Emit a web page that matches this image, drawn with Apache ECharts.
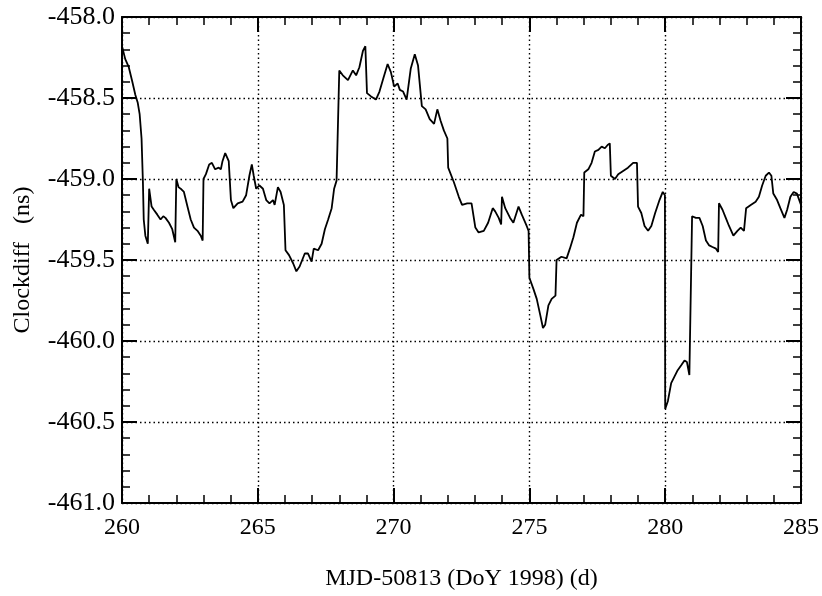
<!DOCTYPE html>
<html>
<head>
<meta charset="utf-8">
<script src="https://cdn.jsdelivr.net/npm/echarts@6/dist/echarts.min.js"></script>
<style>html,body{margin:0;padding:0;background:#fff;}#c{width:822px;height:596px;}</style>
</head>
<body>
<div id="c"></div>
<script>
const xTicks = [260, 265, 270, 275, 280, 285];
const yTicks = [-461.0, -460.5, -460.0, -459.5, -459.0, -458.5, -458.0];
const days = [
260.00,260.12,260.25,260.38,260.49,260.58,260.65,260.72,260.77,260.80,260.86,260.95,
261.00,261.09,261.17,261.30,261.42,261.52,261.60,261.73,261.85,261.96,
262.00,262.08,262.16,262.28,262.41,262.53,262.65,262.78,262.90,262.97,
263.00,263.09,263.21,263.31,263.43,263.56,263.64,263.70,263.80,263.93,
264.01,264.10,264.26,264.44,264.57,264.69,264.78,264.85,264.94,
265.06,265.19,265.31,265.43,265.56,265.62,265.74,265.84,265.96,
266.02,266.15,266.30,266.42,266.54,266.73,266.85,266.98,
267.06,267.22,267.35,267.47,267.59,267.72,267.81,267.90,267.97,
268.00,268.13,268.32,268.50,268.62,268.74,268.87,268.96,
269.02,269.17,269.35,269.48,269.62,269.78,269.90,
270.02,270.15,270.23,270.35,270.48,270.63,270.78,270.90,
271.04,271.18,271.33,271.49,271.61,271.73,271.85,271.98,
272.01,272.22,272.40,272.52,272.71,272.87,
273.01,273.13,273.32,273.48,273.65,273.74,273.87,273.96,273.99,
274.11,274.29,274.41,274.60,274.72,274.90,274.97,
275.00,275.15,275.27,275.40,275.50,275.58,275.70,275.82,275.96,
276.00,276.18,276.37,276.49,276.62,276.75,276.90,276.99,
277.02,277.17,277.29,277.41,277.54,277.66,277.78,277.88,277.96,
278.00,278.15,278.27,278.45,278.63,278.82,278.96,
279.00,279.12,279.24,279.37,279.49,279.63,279.79,279.91,279.99,
280.00,280.10,280.22,280.34,280.46,280.59,280.71,280.80,280.89,280.96,
280.99,281.13,281.26,281.38,281.50,281.62,281.74,281.87,281.95,
281.98,282.11,282.23,282.35,282.51,282.66,282.78,282.90,
282.98,283.15,283.33,283.45,283.57,283.70,283.82,283.91,
283.98,284.12,284.24,284.39,284.49,284.61,284.73,284.85,285.00
];
const clockdiff = [
-458.18,-458.26,-458.31,-458.40,-458.48,-458.53,-458.60,-458.75,-459.02,-459.25,-459.35,-459.40,
-459.06,-459.17,-459.19,-459.22,-459.25,-459.23,-459.24,-459.27,-459.31,-459.39,
-459.00,-459.05,-459.06,-459.08,-459.17,-459.25,-459.30,-459.32,-459.35,-459.38,
-459.00,-458.97,-458.91,-458.90,-458.94,-458.93,-458.94,-458.89,-458.84,-458.89,
-459.13,-459.18,-459.15,-459.14,-459.10,-458.98,-458.91,-458.98,-459.06,
-459.04,-459.06,-459.13,-459.15,-459.13,-459.16,-459.05,-459.08,-459.16,
-459.44,-459.47,-459.52,-459.57,-459.54,-459.46,-459.46,-459.51,
-459.43,-459.44,-459.40,-459.31,-459.25,-459.18,-459.06,-459.01,-459.02,
-458.33,-458.36,-458.39,-458.33,-458.36,-458.31,-458.21,-458.18,
-458.47,-458.49,-458.51,-458.46,-458.38,-458.29,-458.34,
-458.43,-458.41,-458.45,-458.46,-458.51,-458.32,-458.23,-458.30,
-458.55,-458.57,-458.63,-458.66,-458.57,-458.64,-458.70,-458.75,
-458.93,-459.02,-459.11,-459.16,-459.15,-459.15,
-459.30,-459.33,-459.32,-459.27,-459.18,-459.20,-459.24,-459.28,-459.11,
-459.18,-459.24,-459.27,-459.17,-459.22,-459.29,-459.32,
-459.61,-459.68,-459.74,-459.84,-459.92,-459.90,-459.78,-459.74,-459.72,
-459.50,-459.48,-459.49,-459.43,-459.36,-459.27,-459.22,-459.23,
-458.96,-458.94,-458.90,-458.83,-458.82,-458.80,-458.81,-458.79,-458.78,
-458.98,-459.00,-458.97,-458.95,-458.93,-458.90,-458.90,
-459.17,-459.21,-459.29,-459.32,-459.29,-459.21,-459.13,-459.08,-459.10,
-460.42,-460.37,-460.26,-460.22,-460.18,-460.15,-460.12,-460.13,-460.21,-460.21,
-459.23,-459.24,-459.24,-459.29,-459.38,-459.41,-459.42,-459.43,-459.45,
-459.15,-459.19,-459.24,-459.29,-459.35,-459.32,-459.30,-459.32,
-459.18,-459.16,-459.14,-459.11,-459.04,-458.98,-458.96,-458.98,
-459.09,-459.13,-459.18,-459.24,-459.19,-459.11,-459.08,-459.09,-459.16
];
const xName = 'MJD-50813 (DoY 1998) (d)';
const yName = 'Clockdiff   (ns)';

const FONT = '"Liberation Serif", "DejaVu Serif", serif';
const chart = echarts.init(document.getElementById('c'), null, {renderer: 'canvas'});
const seriesData = days.map((d, i) => [d, clockdiff[i]]);
const xMin = xTicks[0], xMax = xTicks[xTicks.length - 1];
const yMin = yTicks[0], yMax = yTicks[yTicks.length - 1];
const axisLine = {show: true, lineStyle: {color: '#000', width: 2}};
const tickIn = {show: true, inside: true, length: 15, lineStyle: {color: '#000', width: 2}};
const minorIn = {show: true, splitNumber: 5, length: 8, lineStyle: {color: '#000', width: 1.5}};
const grid = {show: true, lineStyle: {color: '#000', width: 1.4, type: [1.5, 3]}};

chart.setOption({
  animation: false,
  backgroundColor: '#fff',
  grid: {left: 122, right: 18, top: 17, bottom: 93},
  xAxis: [
    {type: 'value', min: xMin, max: xMax, interval: 5, position: 'bottom',
     axisLine, axisTick: tickIn, minorTick: minorIn, splitLine: grid,
     axisLabel: {color: '#000', fontFamily: FONT, fontSize: 24, margin: 13},
     name: xName, nameLocation: 'middle', nameGap: 64,
     nameTextStyle: {color: '#000', fontFamily: FONT, fontSize: 24}},
    {type: 'value', min: xMin, max: xMax, interval: 5, position: 'top',
     axisLine, axisTick: tickIn, minorTick: minorIn, splitLine: {show: false},
     axisLabel: {show: false}}
  ],
  yAxis: [
    {type: 'value', min: yMin, max: yMax, interval: 0.5, position: 'left',
     axisLine, axisTick: tickIn, minorTick: minorIn, splitLine: grid,
     axisLabel: {color: '#000', fontFamily: FONT, fontSize: 26, margin: 7,
                 formatter: v => v.toFixed(1)},
     name: yName, nameLocation: 'middle', nameGap: 87,
     nameTextStyle: {color: '#000', fontFamily: FONT, fontSize: 24}},
    {type: 'value', min: yMin, max: yMax, interval: 0.5, position: 'right',
     axisLine, axisTick: tickIn, minorTick: minorIn, splitLine: {show: false},
     axisLabel: {show: false}}
  ],
  series: [{
    type: 'line', data: seriesData, showSymbol: false, symbol: 'none',
    lineStyle: {color: '#000', width: 1.8}, xAxisIndex: 0, yAxisIndex: 0
  }]
});
</script>
</body>
</html>
